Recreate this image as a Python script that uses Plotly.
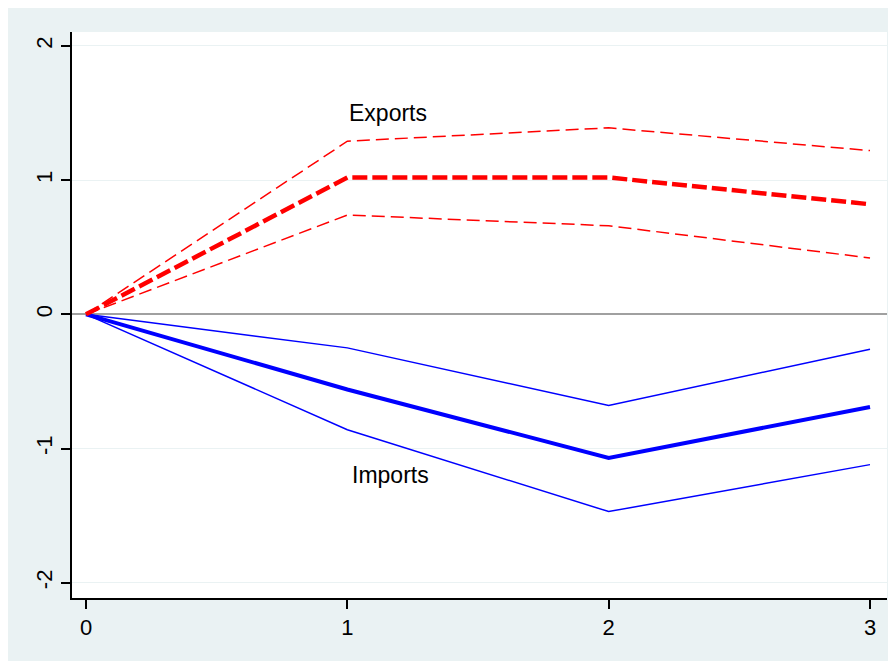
import plotly.graph_objects as go

# horizon (years after shock)
horizon = [0, 1, 2, 3]

# exports response and band
exp_mid = [0, 1.02, 1.02, 0.82]
exp_hi = [0, 1.29, 1.39, 1.22]
exp_lo = [0, 0.74, 0.66, 0.42]

# imports response and band
imp_mid = [0, -0.56, -1.07, -0.69]
imp_hi = [0, -0.25, -0.68, -0.26]
imp_lo = [0, -0.86, -1.47, -1.12]

x_ticks = [0, 1, 2, 3]
y_ticks = [-2, -1, 0, 1, 2]
y_labels = ["-2", "-1", "0", "1", "2"]

bg = "#EAF2F3"
font = "Liberation Sans, Arial, sans-serif"

fig = go.Figure()

def add_line(y, color, width, dash):
    fig.add_trace(go.Scatter(x=horizon, y=y, mode="lines",
                             line=dict(color=color, width=width, dash=dash),
                             showlegend=False, hoverinfo="skip"))

add_line(imp_hi, "#0000FF", 1.5, "solid")
add_line(imp_lo, "#0000FF", 1.5, "solid")
add_line(imp_mid, "#0000FF", 4, "solid")
add_line(exp_hi, "#FF0000", 1.5, "13px,6px")
add_line(exp_lo, "#FF0000", 1.5, "13px,6px")
add_line(exp_mid, "#FF0000", 4.5, "15px,5px")

fig.add_annotation(x=1.0, y=1.5, text="Exports", showarrow=False,
                   xanchor="left", yanchor="middle",
                   font=dict(size=23, color="black", family=font))
fig.add_annotation(x=1.01, y=-1.2, text="Imports", showarrow=False,
                   xanchor="left", yanchor="middle",
                   font=dict(size=23, color="black", family=font))

# page body adds an 8px white margin around the figure
fig.update_layout(
    width=888, height=653,
    margin=dict(l=64, r=9, t=24, b=63),
    paper_bgcolor=bg, plot_bgcolor="white",
    font=dict(family=font, size=22, color="black"),
    xaxis=dict(range=[-0.0536, 3.065], tickvals=x_ticks,
               showgrid=False, zeroline=False,
               showline=True, linecolor="black", linewidth=1.5,
               ticks="outside", ticklen=9, tickwidth=1.5, tickcolor="black",
               tickfont=dict(size=22)),
    yaxis=dict(range=[-2.114, 2.104], tickvals=y_ticks, ticktext=y_labels,
               tickangle=-90,
               showgrid=True, gridcolor=bg, gridwidth=1,
               zeroline=True, zerolinecolor="#A0A0A0", zerolinewidth=1.5,
               showline=True, linecolor="black", linewidth=1.5,
               ticks="outside", ticklen=9, tickwidth=1.5, tickcolor="black",
               tickfont=dict(size=22)),
)

fig.write_html("out.html")
